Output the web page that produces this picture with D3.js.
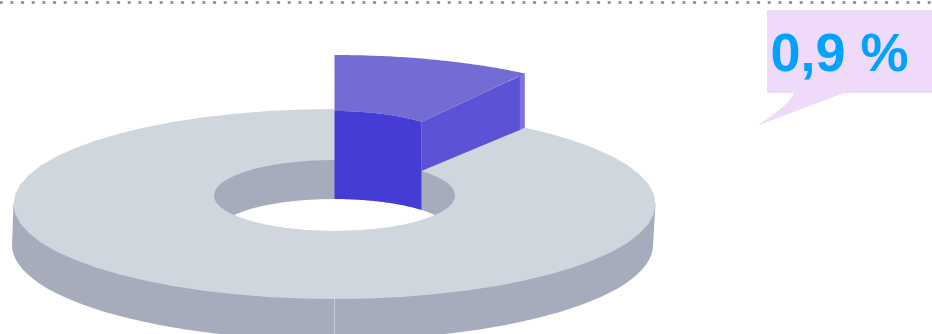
<!DOCTYPE html>
<html><head><meta charset="utf-8">
<script src="https://cdn.jsdelivr.net/npm/d3@7"></script>
<style>html,body{margin:0;padding:0;background:#fff}svg{display:block}</style>
</head><body><svg id="c" width="932" height="334"></svg>
<script>
const categories = ["Selected", "Other"];
const sliceShares = [10.1, 89.9];
const labelText = "0,9 %";

const svg = d3.select("#c");
const angles = d3.pie().sort(null).value(d => d)(sliceShares);
const endAngle = angles[0].endAngle;
const innerEnd = endAngle * 1.27;

const outerTop = {cx:334.5, cy:204, rx:321, ry:95};
const outerBase = {cx:332.5, cy:245, rx:320.5, ry:95};
const innerTop = {cx:334.5, cy:195.5, rx:120.5, ry:35.5};
const innerBase = {cx:334.5, cy:234.5, rx:120.5, ry:35.5};
const lift = (e, dy) => ({...e, cy:e.cy - dy});
const pt = (e, a) => [e.cx + e.rx*Math.sin(a), e.cy - e.ry*Math.cos(a)];
const line = d3.line();
const arc = (e, a0, a1) => d3.range(0, 61).map(i => pt(e, a0 + (a1-a0)*i/60));
const closed = pts => line(pts) + "Z";
const full = e => closed(arc(e, 0, 2*Math.PI));

// gray ring wall
const wall = [pt(outerTop, Math.PI/2), ...arc(outerBase, Math.PI/2, 3*Math.PI/2), pt(outerTop, 3*Math.PI/2)];
svg.append("path").attr("d", closed(wall)).attr("fill", "#a6acbc");
svg.append("line").attr("x1",334.5).attr("x2",334.5).attr("y1",299).attr("y2",334).attr("stroke","#c9ccd6").attr("stroke-width",1);
svg.append("path").attr("d", full(outerTop)).attr("fill", "#cfd6de");

// hole
svg.append("clipPath").attr("id","hole").append("path").attr("d", full(innerTop));
svg.append("path").attr("d", full(innerTop)).attr("fill", "#a6acbc");
svg.append("path").attr("d", full(innerBase)).attr("fill", "#fff").attr("clip-path","url(#hole)");

// raised slice
const oUp = lift(outerTop, 54), iUp = lift(innerTop, 49);
const cOut = pt(oUp, endAngle), cOutBase = pt(outerTop, endAngle);
const cIn = pt(iUp, innerEnd), cInBase = pt(innerTop, innerEnd);
// outer end strip
svg.append("path").attr("d", closed([[cOut[0]-6,cOut[1]+0.5],cOut,cOutBase,[cOutBase[0]-6,cOutBase[1]+3]])).attr("fill","#7b74df");
// side face
svg.append("path").attr("d", closed([cIn,[cOut[0]-5,cOut[1]+2.5],[cOutBase[0]-5,cOutBase[1]+2.5],cInBase])).attr("fill","#5b52d6");
// inner wall
svg.append("path").attr("d", closed([...arc(iUp,0,innerEnd), ...arc(innerBase,innerEnd,0)])).attr("fill","#453cd6");
// top face
svg.append("path").attr("d", closed([...arc(oUp,0,endAngle), ...arc(iUp,innerEnd,0)])).attr("fill","#736cd4");

// dotted rule
svg.append("line").attr("x1",-0.5).attr("x2",932).attr("y1",2.5).attr("y2",2.5)
  .attr("stroke","#999").attr("stroke-width",3).attr("stroke-dasharray","3 7.667").attr("stroke-dashoffset",-0.2);

// callout
svg.append("path").attr("d","M767 10H932V93H844L757 126Q790 104 794 93H767Z").attr("fill","#efdafa");
svg.append("text").attr("x",770.5).attr("y",70.5)
  .attr("font-family","'Liberation Sans',Arial,sans-serif").attr("font-weight",700).attr("font-size",54)
  .attr("fill","#00a2ff").text(labelText);
</script></body></html>
